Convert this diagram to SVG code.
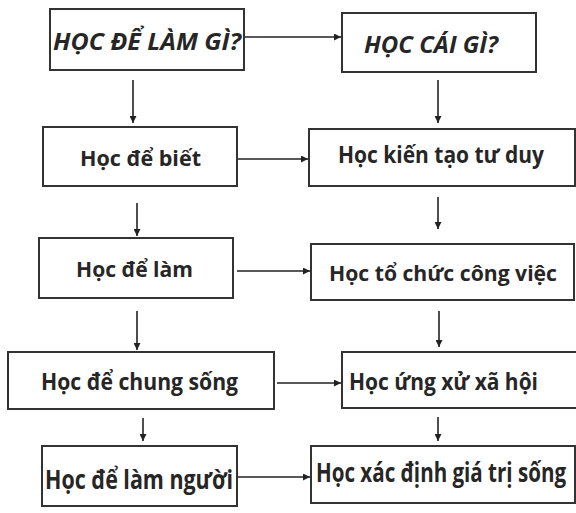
<svg xmlns="http://www.w3.org/2000/svg" width="576" height="513" viewBox="0 0 576 513">
<defs>
<marker id="ah" viewBox="0 0 10 10" refX="10" refY="5" markerWidth="7" markerHeight="7" markerUnits="userSpaceOnUse" orient="auto">
<path d="M0,0 L10,5 L0,10 Z" fill="#222"/>
</marker>
<style>
.box{fill:#fff;stroke:#333;stroke-width:2}
.t{font-family:"Open Sans","Noto Sans","DejaVu Sans",sans-serif;font-weight:bold;fill:#262626}
.i{font-style:italic}
.c{fill:none;stroke:#222;stroke-width:1.6;marker-end:url(#ah)}
</style>
</defs>
<rect width="576" height="513" fill="#fff"/>
<g id="n1"><rect class="box" x="50" y="9" width="194" height="61"/><text class="t i" x="53" y="50" font-size="23" textLength="188" lengthAdjust="spacingAndGlyphs">HỌC ĐỂ LÀM GÌ?</text></g>
<g id="n2"><rect class="box" x="342" y="13" width="194" height="59"/><text class="t i" x="364" y="53" font-size="23" textLength="134" lengthAdjust="spacingAndGlyphs">HỌC CÁI GÌ?</text></g>
<g id="n3"><rect class="box" x="43" y="127" width="194" height="59"/><text class="t" x="80" y="166" font-size="22" textLength="121" lengthAdjust="spacingAndGlyphs">Học để biết</text></g>
<g id="n4"><rect class="box" x="309" y="129" width="266" height="57"/><text class="t" x="338" y="163" font-size="23" textLength="206" lengthAdjust="spacingAndGlyphs">Học kiến tạo tư duy</text></g>
<g id="n5"><rect class="box" x="39" y="238" width="194" height="60"/><text class="t" x="76" y="277" font-size="22" textLength="117" lengthAdjust="spacingAndGlyphs">Học để làm</text></g>
<g id="n6"><rect class="box" x="311" y="244" width="263" height="56"/><text class="t" x="329" y="281" font-size="22" textLength="228" lengthAdjust="spacingAndGlyphs">Học tổ chức công việc</text></g>
<g id="n7"><rect class="box" x="8" y="352" width="266" height="57"/><text class="t" x="41" y="390" font-size="24" textLength="197" lengthAdjust="spacingAndGlyphs">Học để chung sống</text></g>
<g id="n8"><rect class="box" x="342" y="352" width="240" height="56"/><text class="t" x="349" y="390" font-size="24" textLength="189" lengthAdjust="spacingAndGlyphs">Học ứng xử xã hội</text></g>
<g id="n9"><rect class="box" x="42" y="446" width="195" height="60"/><text class="t" x="45" y="489" font-size="27" textLength="188" lengthAdjust="spacingAndGlyphs">Học để làm người</text></g>
<g id="n10"><rect class="box" x="311" y="446" width="264" height="57"/><text class="t" x="316" y="482" font-size="26" textLength="250" lengthAdjust="spacingAndGlyphs">Học xác định giá trị sống</text></g>
<g id="connectors">
<line class="c" x1="245" y1="37" x2="341" y2="37"/>
<line class="c" x1="238" y1="159" x2="308" y2="159"/>
<line class="c" x1="237" y1="271" x2="310" y2="271"/>
<line class="c" x1="277" y1="383" x2="341" y2="383"/>
<line class="c" x1="238" y1="477" x2="310" y2="477"/>
<line class="c" x1="133" y1="80" x2="133" y2="123"/>
<line class="c" x1="137" y1="203" x2="137" y2="236"/>
<line class="c" x1="137" y1="311" x2="137" y2="350"/>
<line class="c" x1="143" y1="418" x2="143" y2="441"/>
<line class="c" x1="438" y1="80" x2="438" y2="123"/>
<line class="c" x1="438" y1="197" x2="438" y2="229"/>
<line class="c" x1="439" y1="311" x2="439" y2="347"/>
<line class="c" x1="438" y1="417" x2="438" y2="441"/>
</g>
</svg>
